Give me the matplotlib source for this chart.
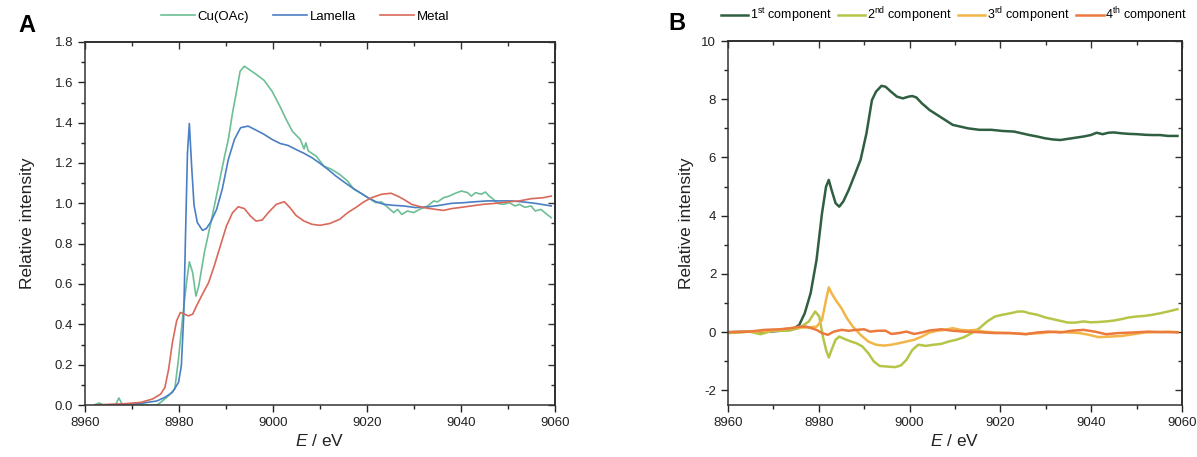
import matplotlib
matplotlib.use("Agg")
import matplotlib.pyplot as plt
from matplotlib.ticker import MultipleLocator

plt.rcParams['font.family'] = ['Liberation Sans', 'DejaVu Sans']
plt.rcParams['mathtext.fontset'] = 'custom'
plt.rcParams['mathtext.rm'] = 'Liberation Sans'
plt.rcParams['mathtext.it'] = 'Liberation Sans:italic'

# ---- Panel A: normalised XANES spectra ----
cu_e = [8962, 8963, 8964, 8966.5, 8967.2, 8968, 8970, 8975.3, 8976.1, 8977.8, 8979.1,
        8979.9, 8980.8, 8981.6, 8982.2, 8982.9, 8983.6, 8984.2, 8985.4, 8987.1, 8988.4,
        8989.7, 8990.5, 8991.4, 8992.2, 8993.0, 8993.9, 8996.4, 8998.1, 8999.8, 9001.5,
        9002.8, 9004.1, 9005.8, 9006.6, 9007.0, 9007.5, 9009.2, 9010.8, 9012.5, 9014.2,
        9015.9, 9017.2, 9018.5, 9020.2, 9021.9, 9023.1, 9024.4, 9025.7, 9026.5, 9027.4,
        9028.6, 9029.9, 9031.2, 9032.9, 9034.2, 9035.0, 9036.3, 9037.5, 9038.8, 9040.1,
        9041.4, 9042.2, 9043.1, 9044.3, 9045.2, 9046.0, 9046.9, 9047.7, 9049.0, 9050.3,
        9051.5, 9052.4, 9053.6, 9054.9, 9055.8, 9057.0, 9058.3, 9059.2]
cu_i = [0.0, 0.01, 0.0, 0.0, 0.035, 0.0, 0.0, 0.0, 0.013, 0.046, 0.08,
        0.23, 0.44, 0.607, 0.71, 0.657, 0.54, 0.59, 0.756, 0.94, 1.086,
        1.234, 1.317, 1.45, 1.55, 1.655, 1.68, 1.64, 1.61, 1.556, 1.48,
        1.416, 1.358, 1.317, 1.27, 1.30, 1.26, 1.234, 1.185, 1.168, 1.143,
        1.11, 1.07, 1.053, 1.028, 1.003, 1.007, 0.98, 0.954, 0.97, 0.945,
        0.962, 0.954, 0.97, 0.987, 1.012, 1.007, 1.028, 1.036, 1.05, 1.061,
        1.053, 1.036, 1.053, 1.045, 1.056, 1.036, 1.02, 1.0, 0.995, 1.003,
        0.987, 0.995, 0.98, 0.987, 0.962, 0.97, 0.945, 0.929]

lam_e = [8962, 8967.6, 8971.9, 8975.3, 8977.0, 8978.6, 8979.9, 8980.5, 8981.0, 8981.4,
         8981.8, 8982.2, 8982.7, 8983.2, 8983.9, 8985.0, 8985.8, 8986.7, 8988.0, 8989.2,
         8990.5, 8991.8, 8993.1, 8994.7, 8996.4, 8998.1, 8999.8, 9001.5, 9003.2, 9004.9,
         9006.6, 9008.3, 9010.0, 9011.7, 9013.4, 9015.1, 9016.8, 9018.5, 9020.2, 9021.9,
         9023.6, 9025.7, 9027.8, 9030.3, 9032.9, 9035.4, 9038.0, 9040.5, 9043.1, 9045.6,
         9048.1, 9050.7, 9053.2, 9055.8, 9059.2]
lam_i = [0.0, 0.003, 0.008, 0.02, 0.038, 0.063, 0.112, 0.195, 0.44, 0.855,
         1.25, 1.396, 1.18, 0.99, 0.905, 0.866, 0.875, 0.905, 0.97, 1.07,
         1.218, 1.317, 1.375, 1.383, 1.363, 1.342, 1.317, 1.297, 1.287, 1.267,
         1.248, 1.226, 1.198, 1.168, 1.135, 1.106, 1.078, 1.053, 1.028, 1.008,
         0.995, 0.99, 0.987, 0.979, 0.982, 0.99, 1.0, 1.003, 1.008, 1.012,
         1.012, 1.012, 1.007, 1.0, 0.987]

met_e = [8962, 8967.6, 8971.9, 8974.4, 8976.1, 8977.0, 8977.8, 8978.6, 8979.5, 8980.3,
         8981.2, 8982.0, 8982.9, 8983.7, 8985.0, 8986.3, 8987.5, 8988.8, 8990.1, 8991.4,
         8992.6, 8993.9, 8995.2, 8996.4, 8997.7, 8999.0, 9000.7, 9002.4, 9003.6, 9004.9,
         9006.6, 9008.3, 9010.0, 9012.1, 9014.2, 9015.9, 9017.6, 9019.3, 9021.0, 9023.1,
         9025.1, 9026.5, 9027.8, 9029.5, 9032.0, 9034.6, 9036.3, 9038.0, 9039.7, 9042.2,
         9044.7, 9047.3, 9049.8, 9052.4, 9054.9, 9057.5, 9059.2]
met_i = [0.0, 0.005, 0.013, 0.03, 0.054, 0.087, 0.178, 0.31, 0.418, 0.459,
         0.45, 0.442, 0.45, 0.49, 0.55, 0.607, 0.69, 0.789, 0.888, 0.954,
         0.983, 0.974, 0.937, 0.912, 0.917, 0.954, 0.995, 1.008, 0.979, 0.94,
         0.912, 0.896, 0.891, 0.9, 0.921, 0.954, 0.979, 1.007, 1.028, 1.045,
         1.05, 1.036, 1.02, 0.995, 0.979, 0.97, 0.965, 0.974, 0.979, 0.987,
         0.995, 1.0, 1.007, 1.012, 1.023, 1.028, 1.036]

# ---- Panel B: principal components ----
c1_e = [8960, 8965, 8970, 8974, 8975.7, 8976.9, 8978.2, 8979.5, 8980.7, 8981.6, 8982.2,
        8982.8, 8983.7, 8984.5, 8985.4, 8986.6, 8987.9, 8989.2, 8990.5, 8991.7, 8992.6,
        8993.8, 8994.7, 8995.9, 8997.2, 8998.5, 8999.8, 9000.6, 9001.5, 9002.7, 9004.4,
        9006.1, 9007.8, 9009.5, 9011.2, 9012.9, 9015.4, 9018.0, 9020.5, 9023.0, 9024.7,
        9026.4, 9028.1, 9029.8, 9031.5, 9033.2, 9034.9, 9036.6, 9038.3, 9039.9, 9041.2,
        9042.5, 9043.8, 9045.0, 9046.7, 9048.4, 9050.1, 9051.8, 9053.5, 9055.2, 9056.9,
        9059.0]
c1_i = [0.0, 0.02, 0.03, 0.08, 0.25, 0.65, 1.34, 2.48, 4.08, 5.0, 5.23,
        4.89, 4.43, 4.31, 4.49, 4.89, 5.4, 5.92, 6.83, 7.97, 8.26,
        8.46, 8.43, 8.26, 8.09, 8.03, 8.09, 8.11, 8.06, 7.86, 7.63,
        7.46, 7.29, 7.12, 7.06, 7.0, 6.95, 6.95, 6.91, 6.89, 6.83,
        6.77, 6.72, 6.66, 6.62, 6.6, 6.64, 6.68, 6.72, 6.77, 6.85,
        6.8, 6.85, 6.86, 6.83, 6.81, 6.8, 6.78, 6.77, 6.77, 6.74,
        6.74]

c2_e = [8960, 8964.7, 8967.2, 8969.7, 8973.1, 8975.7, 8977.8, 8979.2, 8980.1, 8980.9,
        8981.6, 8982.2, 8982.8, 8983.7, 8984.5, 8985.8, 8987.1, 8988.3, 8989.6, 8990.9,
        8992.1, 8993.4, 8995.1, 8996.8, 8998.1, 8999.3, 9000.6, 9001.9, 9003.6, 9005.3,
        9007.0, 9008.6, 9010.3, 9012.0, 9013.7, 9015.4, 9017.1, 9018.8, 9020.5, 9022.2,
        9023.9, 9025.1, 9026.4, 9028.1, 9029.8, 9031.5, 9033.2, 9034.9, 9036.6, 9038.3,
        9039.9, 9041.6, 9043.3, 9045.0, 9046.7, 9048.4, 9050.1, 9051.8, 9053.5, 9055.2,
        9056.9, 9059.0]
c2_i = [-0.03, 0.02, -0.07, 0.05, 0.05, 0.14, 0.37, 0.71, 0.54, -0.15,
        -0.61, -0.87, -0.61, -0.26, -0.15, -0.24, -0.32, -0.38, -0.49, -0.72,
        -1.0, -1.16, -1.18, -1.2, -1.14, -0.95, -0.61, -0.43, -0.47, -0.43,
        -0.4, -0.32, -0.26, -0.17, -0.03, 0.14, 0.37, 0.54, 0.6, 0.65,
        0.71, 0.71, 0.65, 0.6, 0.51, 0.45, 0.39, 0.33, 0.33, 0.37,
        0.34, 0.35, 0.37, 0.4, 0.45, 0.51, 0.54, 0.56, 0.6, 0.65,
        0.71, 0.79]

c3_e = [8960, 8966.3, 8971.4, 8974.8, 8977.3, 8979.5, 8980.7, 8981.6, 8982.2, 8982.8,
        8983.7, 8985.0, 8986.2, 8987.5, 8989.2, 8990.9, 8992.6, 8994.3, 8996.0, 8997.6,
        8999.3, 9001.0, 9002.7, 9004.4, 9006.1, 9007.8, 9009.5, 9011.2, 9012.9, 9014.6,
        9016.3, 9018.8, 9022.2, 9025.6, 9029.0, 9032.3, 9034.9, 9037.4, 9039.5, 9041.6,
        9044.2, 9046.7, 9049.3, 9051.8, 9054.4, 9056.9, 9059.0]
c3_i = [0.0, 0.02, 0.08, 0.16, 0.16, 0.19, 0.42, 1.11, 1.54, 1.34,
        1.11, 0.82, 0.48, 0.19, -0.09, -0.32, -0.43, -0.46, -0.43, -0.38,
        -0.32, -0.26, -0.15, -0.01, 0.05, 0.08, 0.14, 0.08, 0.06, 0.08,
        0.02, -0.01, -0.03, -0.06, -0.03, 0.02, -0.01, -0.03, -0.09, -0.17,
        -0.15, -0.13, -0.07, -0.01, 0.0, 0.02, 0.0]

c4_e = [8960, 8964.7, 8968.0, 8971.4, 8974.0, 8975.7, 8977.3, 8979.5, 8980.7, 8982.0,
        8983.3, 8985.0, 8986.6, 8988.3, 8990.0, 8991.3, 8993.0, 8994.7, 8996.0, 8997.6,
        8999.3, 9001.0, 9002.7, 9004.4, 9007.0, 9009.5, 9012.0, 9015.4, 9018.8, 9022.2,
        9025.6, 9028.1, 9030.6, 9033.2, 9035.7, 9038.3, 9040.8, 9043.3, 9045.9, 9049.3,
        9052.6, 9056.0, 9059.0]
c4_i = [0.0, 0.02, 0.08, 0.1, 0.14, 0.19, 0.19, 0.08, -0.03, -0.09,
        0.02, 0.08, 0.05, 0.08, 0.1, 0.02, 0.05, 0.05, -0.06, -0.03,
        0.02, -0.06, -0.01, 0.06, 0.1, 0.05, 0.02, 0.0, -0.03, -0.03,
        -0.07, -0.01, 0.02, -0.01, 0.05, 0.08, 0.02, -0.07, -0.03, -0.01,
        0.02, 0.0, 0.0]

W, H = 1197, 457
fig = plt.figure(figsize=(W / 100, H / 100), dpi=100)


def px_axes(x0, x1, y0, y1):
    # axes from pixel edges of the picture
    return fig.add_axes([x0 / W, 1 - y1 / H, (x1 - x0) / W, (y1 - y0) / H])


def style(ax, ylabelpad):
    ax.set_xlim(8960, 9060)
    ax.xaxis.set_major_locator(MultipleLocator(20))
    ax.xaxis.set_minor_locator(MultipleLocator(10))
    ax.tick_params(which='both', direction='out', top=False, right=False,
                   labelsize=9.5, colors='#222222', width=1)
    ax.tick_params(which='major', length=5)
    ax.tick_params(which='minor', length=3)
    for s in ax.spines.values():
        s.set_linewidth(1.1)
        s.set_color('#333333')
    # inward ticks on top and right, like the origin default
    top = ax.secondary_xaxis('top')
    top.xaxis.set_major_locator(MultipleLocator(20))
    top.xaxis.set_minor_locator(MultipleLocator(10))
    right = ax.secondary_yaxis('right')
    right.yaxis.set_major_locator(ax.yaxis.get_major_locator())
    right.yaxis.set_minor_locator(ax.yaxis.get_minor_locator())
    for sec in (top, right):
        sec.tick_params(which='both', direction='in', labeltop=False, labelright=False,
                        width=1, colors='#333333')
        sec.tick_params(which='major', length=5)
        sec.tick_params(which='minor', length=3)
        for s in sec.spines.values():
            s.set_linewidth(1.1)
    ax.set_xlabel(r'$\it{E}$ / eV', fontsize=12.5, color='#222222', labelpad=3)
    ax.set_ylabel('Relative intensity', fontsize=12.5, color='#222222', labelpad=ylabelpad)


axA = px_axes(85, 555, 42, 405)
axA.plot(cu_e, cu_i, color='#6cbf95', lw=1.2, label='Cu(OAc)')
axA.plot(lam_e, lam_i, color='#4b7fc4', lw=1.2, label='Lamella')
axA.plot(met_e, met_i, color='#d9695a', lw=1.2, label='Metal')
axA.set_ylim(0, 1.8)
axA.yaxis.set_major_locator(MultipleLocator(0.2))
axA.yaxis.set_minor_locator(MultipleLocator(0.1))
axA.yaxis.set_major_formatter(lambda v, p: f'{v:.1f}')
style(axA, 14)
fig.legend(*axA.get_legend_handles_labels(), loc='center', ncol=3, frameon=False,
           bbox_to_anchor=(305 / W, 1 - 17 / H), fontsize=9.5, handlelength=2.6,
           handletextpad=0.2, columnspacing=1.8)
fig.text(18 / W, 1 - 26 / H, 'A', fontsize=17, fontweight='bold', va='center')

axB = px_axes(728, 1182, 41, 405)
axB.plot(c1_e, c1_i, color='#2f5e40', lw=1.8, label=r'1$^{\rm st}$ component')
axB.plot(c2_e, c2_i, color='#b6c548', lw=1.8, label=r'2$^{\rm nd}$ component')
axB.plot(c3_e, c3_i, color='#f2b548', lw=1.8, label=r'3$^{\rm rd}$ component')
axB.plot(c4_e, c4_i, color='#eb7a3e', lw=1.8, label=r'4$^{\rm th}$ component')
axB.set_ylim(-2.5, 10)
axB.yaxis.set_major_locator(MultipleLocator(2))
axB.yaxis.set_minor_locator(MultipleLocator(1))
axB.yaxis.set_major_formatter(lambda v, p: f'{v:.0f}')
style(axB, 5)
fig.legend(*axB.get_legend_handles_labels(), loc='center', ncol=4, frameon=False,
           bbox_to_anchor=(954 / W, 1 - 15 / H), fontsize=9, handlelength=2.2,
           handletextpad=0.15, columnspacing=0.5)
fig.text(668 / W, 1 - 24 / H, 'B', fontsize=17, fontweight='bold', va='center')

fig.savefig('out.png', dpi=100)
